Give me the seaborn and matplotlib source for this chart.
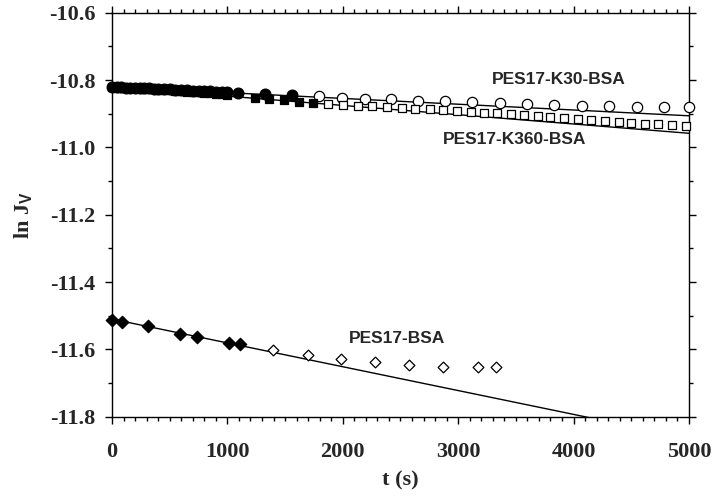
import numpy as np
import pandas as pd
import matplotlib
matplotlib.use("Agg")
import matplotlib.pyplot as plt
from matplotlib.ticker import MultipleLocator
import seaborn as sns

# PES17-K30-BSA: filled = fitted range, open = later points
k30_t_fill = [0, 40, 80, 120, 160, 200, 240, 280, 320, 360, 400, 450, 500, 550,
              600, 650, 700, 750, 800, 850, 900, 950, 1000, 1090, 1330, 1560]
k30_y_fill = [-10.820, -10.821, -10.821, -10.822, -10.822, -10.823, -10.823, -10.824,
              -10.824, -10.825, -10.825, -10.826, -10.827, -10.828, -10.829, -10.830,
              -10.831, -10.832, -10.832, -10.833, -10.834, -10.835, -10.836, -10.838,
              -10.840, -10.844]
k30_t_open = [1790, 1990, 2190, 2420, 2650, 2890, 3120, 3360, 3600, 3830, 4070,
              4310, 4550, 4780, 5000]
k30_y_open = [-10.848, -10.853, -10.855, -10.857, -10.861, -10.863, -10.866, -10.869,
              -10.872, -10.874, -10.876, -10.878, -10.879, -10.880, -10.881]

# PES17-K360-BSA
k360_t_fill = [0, 40, 80, 120, 160, 200, 240, 280, 320, 360, 400, 450, 500, 550,
               600, 650, 700, 750, 800, 850, 900, 950, 1000, 1240, 1360, 1490, 1620, 1740]
k360_y_fill = [-10.821, -10.822, -10.822, -10.823, -10.823, -10.824, -10.825, -10.826,
               -10.826, -10.827, -10.828, -10.829, -10.830, -10.831, -10.832, -10.834,
               -10.835, -10.836, -10.838, -10.839, -10.840, -10.842, -10.845, -10.853,
               -10.856, -10.859, -10.864, -10.868]
k360_t_open = [1870, 2000, 2130, 2250, 2380, 2510, 2630, 2756, 2870, 2990, 3110, 3220,
               3340, 3460, 3570, 3690, 3800, 3920, 4040, 4150, 4270, 4390, 4500, 4620,
               4730, 4850, 4970]
k360_y_open = [-10.871, -10.875, -10.877, -10.878, -10.880, -10.882, -10.885, -10.887,
               -10.888, -10.891, -10.894, -10.897, -10.899, -10.902, -10.905, -10.908,
               -10.911, -10.913, -10.916, -10.918, -10.921, -10.924, -10.926, -10.929,
               -10.931, -10.934, -10.936]

# PES17-BSA
bsa_t_fill = [0, 87, 312, 589, 736, 1014, 1109]
bsa_y_fill = [-11.513, -11.518, -11.530, -11.554, -11.563, -11.581, -11.584]
bsa_t_open = [1395, 1698, 1984, 2279, 2574, 2868, 3172, 3327]
bsa_y_open = [-11.601, -11.616, -11.629, -11.637, -11.646, -11.651, -11.652, -11.652]

# linear fits (end points)
fit_t = [0, 5000]
k30_fit = [-10.820, -10.906]
k360_fit = [-10.820, -10.958]
bsa_fit = [-11.510, -11.864]

sns.set_style("ticks")
plt.rcParams['font.family'] = ['Liberation Serif', 'DejaVu Serif']
plt.rcParams['font.weight'] = 'bold'
plt.rcParams['mathtext.fontset'] = 'custom'
plt.rcParams['mathtext.rm'] = 'Liberation Sans:bold'

fig = plt.figure(figsize=(7.15, 4.98), dpi=100)
ax = fig.add_axes([0.1566, 0.1633, 0.807, 0.811])

for y in [k30_fit, k360_fit, bsa_fit]:
    sns.lineplot(x=fit_t, y=y, ax=ax, color='black', linewidth=1.0)

pts = [
    (k30_t_fill, k30_y_fill, 'o', 'black', 60),
    (k30_t_open, k30_y_open, 'o', 'white', 55),
    (k360_t_fill, k360_y_fill, 's', 'black', 32),
    (k360_t_open, k360_y_open, 's', 'white', 28),
    (bsa_t_fill, bsa_y_fill, 'D', 'black', 40),
    (bsa_t_open, bsa_y_open, 'D', 'white', 30),
]
for t, y, m, fc, s in pts:
    sns.scatterplot(x=t, y=y, ax=ax, marker=m, s=s, color=fc, edgecolor='black',
                    linewidth=0.9, clip_on=False, zorder=3)

lab_font = dict(family='Liberation Sans', fontweight='bold', fontsize=12.5,
                ha='center', va='center')
ax.text(3873, -10.799, 'PES17-K30-BSA', **lab_font)
ax.text(3492, -10.977, 'PES17-K360-BSA', **lab_font)
ax.text(2470, -11.569, 'PES17-BSA', **lab_font)

ax.set_xlim(0, 5000)
ax.set_ylim(-11.8, -10.6)
ax.xaxis.set_major_locator(MultipleLocator(1000))
ax.xaxis.set_minor_locator(MultipleLocator(100))
ax.yaxis.set_major_locator(MultipleLocator(0.2))
ax.yaxis.set_minor_locator(MultipleLocator(0.1))
ax.yaxis.set_major_formatter(matplotlib.ticker.FormatStrFormatter('%.1f'))

ax.tick_params(which='both', direction='out', top=True, right=True, width=1.0,
               color='black')
ax.tick_params(which='major', length=5)
ax.tick_params(which='minor', length=3)
ax.tick_params(axis='x', which='major', pad=13, labelsize=16)
ax.tick_params(axis='y', which='major', pad=7, labelsize=16)
for lbl in ax.get_xticklabels() + ax.get_yticklabels():
    lbl.set_fontweight('bold')

for sp in ax.spines.values():
    sp.set_linewidth(1.0)
    sp.set_color('black')

ax.set_xlabel('t (s)', fontsize=16, fontweight='bold', labelpad=6)
ax.set_ylabel(r'ln J$_{\mathrm{V}}$', fontsize=16, fontweight='bold', labelpad=10)

fig.savefig('out.png', dpi=100)
